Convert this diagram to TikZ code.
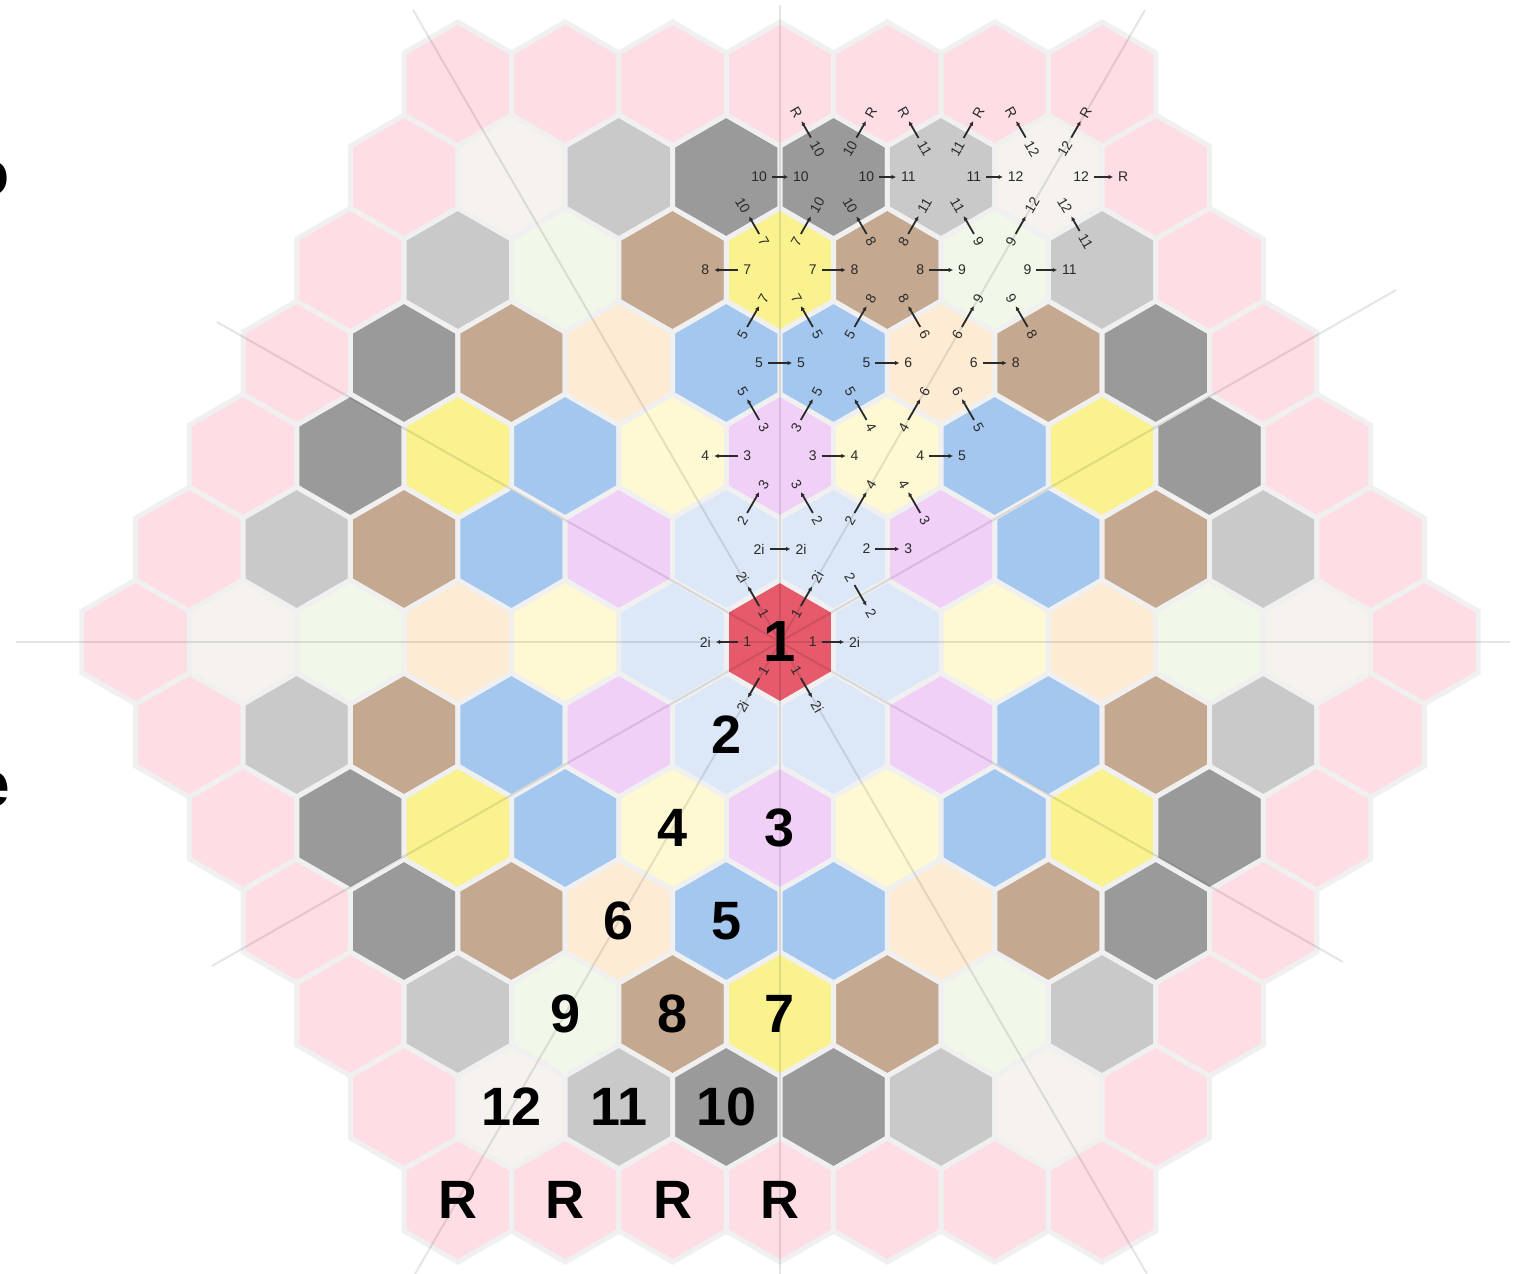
\documentclass[tikz,border=0pt]{standalone}
\usepackage{fontspec}
\setmainfont{Liberation Sans}
\usetikzlibrary{calc,arrows.meta}
\definecolor{hc00}{HTML}{E65A6B}
\definecolor{hc10}{HTML}{DCE8F8}
\definecolor{hc20}{HTML}{FEF9D3}
\definecolor{hc21}{HTML}{F1D0F8}
\definecolor{hc30}{HTML}{FEEBD3}
\definecolor{hc31}{HTML}{A4C7EF}
\definecolor{hc40}{HTML}{F1F8E9}
\definecolor{hc41}{HTML}{C4A88F}
\definecolor{hc42}{HTML}{FAF28E}
\definecolor{hc50}{HTML}{F6F3EF}
\definecolor{hc51}{HTML}{C9C9C9}
\definecolor{hc52}{HTML}{9A9A9A}
\definecolor{hc60}{HTML}{FEDDE4}
\colorlet{hc61}{hc60}
\colorlet{hc62}{hc60}
\colorlet{hc63}{hc60}
\definecolor{gapcol}{HTML}{F0F0F0}
\definecolor{labcol}{HTML}{2A2A2A}
% edge label: A, B, text A, text B, rotation, arrow, id
\newcommand\elab[7]{%
  \node[sm,rotate=#5] (la#7) at ($(#1)!0.305!(#2)$) {#3};
  \node[sm,rotate=#5] (lb#7) at ($(#1)!0.695!(#2)$) {#4};
  \draw[con,#6] (la#7) -- (lb#7);
}
\begin{document}
\begin{tikzpicture}[x=0.5pt,y=-0.5pt,
  hexcell/.style={draw=gapcol,line width=2.5pt},
  guide/.style={draw=black,opacity=0.1,line width=1pt},
  sm/.style={font=\fontsize{7}{8}\selectfont,text=labcol,inner sep=1pt},
  con/.style={draw=labcol,line width=0.9pt,shorten <=1.3pt,shorten >=1.3pt,
    >={Latex[length=2.2pt,width=2.2pt]}},
  big/.style={font=\fontsize{27}{27}\selectfont\bfseries,text=black,inner sep=0pt},
  edgetext/.style={font=\fontsize{32}{32}\selectfont\bfseries,text=black,inner sep=0pt}]
\useasboundingbox (0,0) rectangle (1517,1274);
\fill[white] (0,0) rectangle (1517,1274);
% hexagonal grid
\foreach \qa in {-6,...,6}{
  \foreach \ra in {-6,...,6}{
    \pgfmathtruncatemacro\sa{-(\qa)-(\ra)}
    \pgfmathtruncatemacro\nr{max(abs(\qa),abs(\ra),abs(\sa))}
    \ifnum\nr<7
      \pgfmathtruncatemacro\mr{min(abs(\qa),abs(\ra),abs(\sa))}
      \pgfmathtruncatemacro\qi{\qa+6}
      \pgfmathtruncatemacro\ri{\ra+6}
      \coordinate (h\qi x\ri) at ({780+107.387*(\qa+0.5*(\ra))},{642+93*(\ra)});
      \draw[hexcell,fill=hc\nr\mr] (h\qi x\ri) +(30:62) -- +(90:62) -- +(150:62)
        -- +(210:62) -- +(270:62) -- +(330:62) -- cycle;
    \fi
  }
}
% faint guide lines through the centre
\draw[guide] (16,642) -- (1510,642);
\draw[guide] (780,5) -- (780,1274);
\draw[guide] (413,10) -- (1147,1274);
\draw[guide] (1145,10) -- (415,1274);
\draw[guide] (1396,290) -- (212,966);
\draw[guide] (217,322) -- (1343,962);
% partial texts at the left edge
\node[edgetext,anchor=east] (cutA) at (10,179) {o};
\node[edgetext,anchor=east] (cutB) at (10,790) {e};
% edge labels
\elab{h6x6}{h7x6}{1}{2i}{0}{->}{1}
\elab{h6x6}{h5x6}{1}{2i}{0}{->}{2}
\elab{h6x6}{h7x5}{1}{2i}{60}{->}{3}
\elab{h6x6}{h6x5}{1}{2i}{-60}{->}{4}
\elab{h6x6}{h6x7}{1}{2i}{-60}{->}{5}
\elab{h6x6}{h5x7}{1}{2i}{60}{->}{6}
\elab{h7x5}{h6x5}{2i}{2i}{0}{<-}{7}
\elab{h7x5}{h7x4}{2}{3}{-60}{->}{8}
\elab{h7x5}{h8x4}{2}{4}{60}{->}{9}
\elab{h7x5}{h8x5}{2}{3}{0}{->}{10}
\elab{h7x5}{h7x6}{2}{2}{-60}{->}{11}
\elab{h7x4}{h6x4}{3}{4}{0}{->}{12}
\elab{h7x4}{h8x4}{3}{4}{0}{->}{13}
\elab{h7x4}{h6x5}{3}{2}{60}{<-}{14}
\elab{h7x4}{h7x3}{3}{5}{-60}{->}{15}
\elab{h7x4}{h8x3}{3}{5}{60}{->}{16}
\elab{h8x4}{h8x5}{4}{3}{-60}{<-}{17}
\elab{h8x4}{h9x4}{4}{5}{0}{->}{18}
\elab{h8x4}{h8x3}{4}{5}{-60}{->}{19}
\elab{h8x4}{h9x3}{4}{6}{60}{->}{20}
\elab{h8x3}{h7x3}{5}{5}{0}{<-}{21}
\elab{h8x3}{h9x3}{5}{6}{0}{->}{22}
\elab{h8x3}{h8x2}{5}{7}{-60}{->}{23}
\elab{h8x3}{h9x2}{5}{8}{60}{->}{24}
\elab{h9x3}{h10x3}{6}{8}{0}{->}{25}
\elab{h9x3}{h9x4}{6}{5}{-60}{<-}{26}
\elab{h9x3}{h9x2}{6}{8}{-60}{->}{27}
\elab{h9x3}{h10x2}{6}{9}{60}{->}{28}
\elab{h8x2}{h7x2}{7}{8}{0}{->}{29}
\elab{h8x2}{h9x2}{7}{8}{0}{->}{30}
\elab{h8x2}{h7x3}{7}{5}{60}{<-}{31}
\elab{h8x2}{h8x1}{7}{10}{-60}{->}{32}
\elab{h8x2}{h9x1}{7}{10}{60}{->}{33}
\elab{h9x2}{h10x2}{8}{9}{0}{->}{34}
\elab{h9x2}{h9x1}{8}{10}{-60}{->}{35}
\elab{h9x2}{h10x1}{8}{11}{60}{->}{36}
\elab{h10x2}{h11x2}{9}{11}{0}{->}{37}
\elab{h10x2}{h10x3}{9}{8}{-60}{<-}{38}
\elab{h10x2}{h10x1}{9}{11}{-60}{->}{39}
\elab{h10x2}{h11x1}{9}{12}{60}{->}{40}
\elab{h9x1}{h8x1}{10}{10}{0}{<-}{41}
\elab{h9x1}{h10x1}{10}{11}{0}{->}{42}
\elab{h9x1}{h9x0}{10}{R}{-60}{->}{43}
\elab{h9x1}{h10x0}{10}{R}{60}{->}{44}
\elab{h10x1}{h11x1}{11}{12}{0}{->}{45}
\elab{h10x1}{h10x0}{11}{R}{-60}{->}{46}
\elab{h10x1}{h11x0}{11}{R}{60}{->}{47}
\elab{h11x1}{h12x1}{12}{R}{0}{->}{48}
\elab{h11x1}{h11x2}{12}{11}{-60}{<-}{49}
\elab{h11x1}{h11x0}{12}{R}{-60}{->}{50}
\elab{h11x1}{h12x0}{12}{R}{60}{->}{51}
% big labels
\node[big,font=\fontsize{29}{29}\selectfont\bfseries] (b1) at (h6x6) {1};
\node[big] (b2) at (h5x7) {2};
\node[big] (b3) at (h5x8) {3};
\node[big] (b4) at (h4x8) {4};
\node[big] (b5) at (h4x9) {5};
\node[big] (b6) at (h3x9) {6};
\node[big] (b7) at (h4x10) {7};
\node[big] (b8) at (h3x10) {8};
\node[big] (b9) at (h2x10) {9};
\node[big] (b10) at (h3x11) {10};
\node[big] (b11) at (h2x11) {11};
\node[big] (b12) at (h1x11) {12};
\node[big] (bR1) at (h0x12) {R};
\node[big] (bR2) at (h1x12) {R};
\node[big] (bR3) at (h2x12) {R};
\node[big] (bR4) at (h3x12) {R};
\end{tikzpicture}
\end{document}
